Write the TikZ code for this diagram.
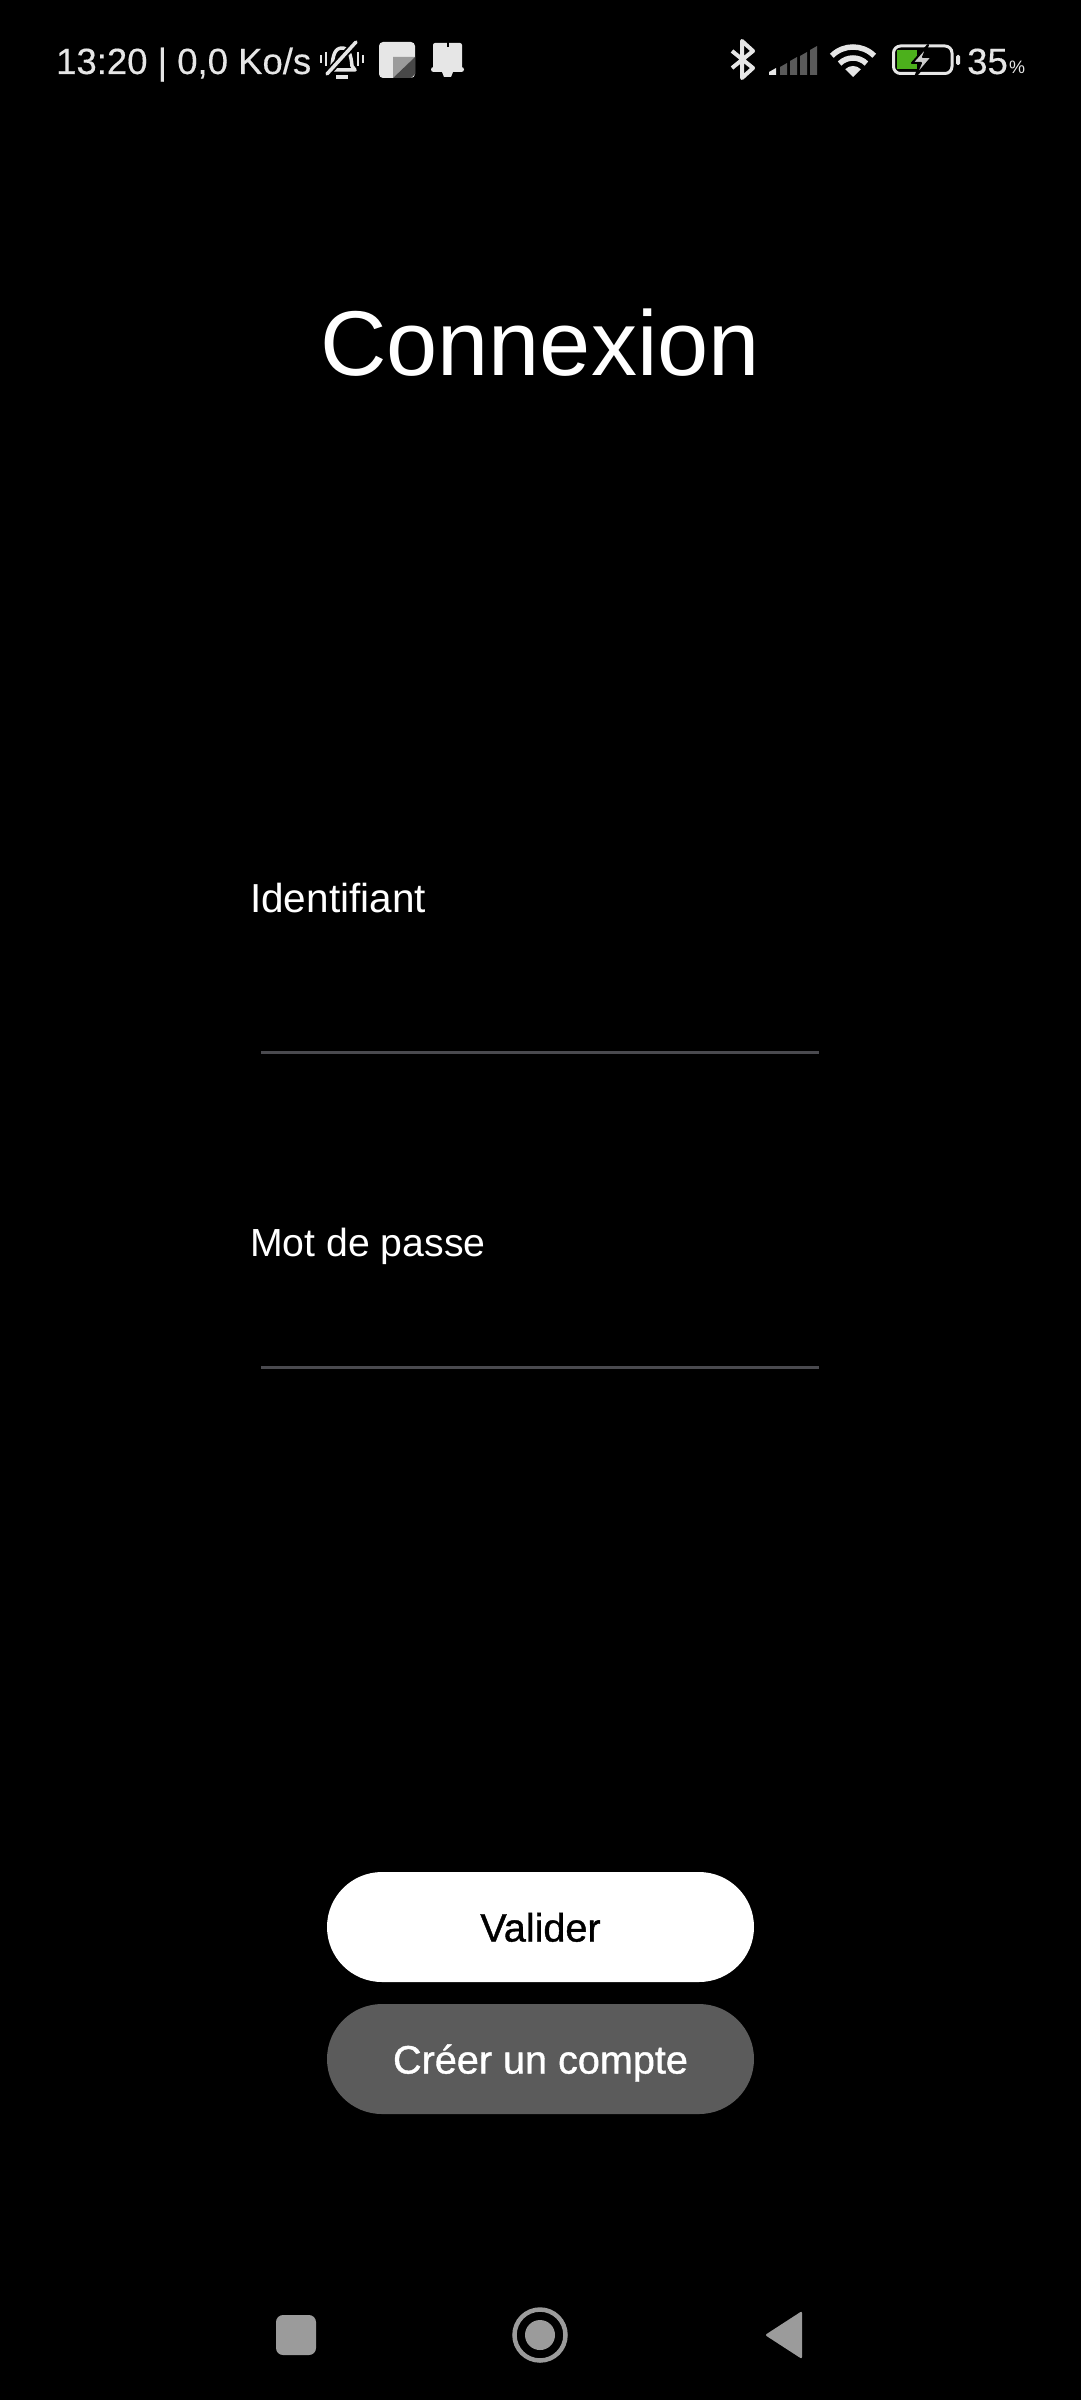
\documentclass[tikz,border=0pt]{standalone}
\usepackage{fontspec}
\setmainfont{Liberation Sans}
\newfontfamily\buttonfont[FakeBold=1.0]{Liberation Sans}
\newfontfamily\barfont[FakeBold=0.3]{Liberation Sans}
\tikzset{
% Text styles: status bar, title and form labels
status text/.style={anchor=base west,inner sep=0,text=barcolor,font=\barfont\fontsize{36.5}{36}\selectfont},
field label/.style={anchor=base west,inner sep=0,text=white,font=\fontsize{39.2}{40}\selectfont},
% Two button styles: light and dark
push button/.style={draw=none,rounded corners=55pt,minimum width=427pt,minimum height=110pt,inner sep=0,
  text height=29pt,text depth=0pt,font=\buttonfont\fontsize{39.6}{40}\selectfont},
light button/.style={push button,fill=white,text=black},
dark button/.style={push button,fill=buttongray,text=white},
field line/.style={draw=linegray,line width=3pt},
nav icon/.style={fill=navgray,draw=none}
}
\definecolor{barcolor}{HTML}{E6E6E6}
\definecolor{buttongray}{HTML}{5B5B5B}
\definecolor{linegray}{HTML}{4A4A4F}
\definecolor{navgray}{HTML}{9B9B9B}
\definecolor{signalgray}{HTML}{5A5A5A}
\definecolor{chargegreen}{HTML}{4CB01C}
\begin{document}
\begin{tikzpicture}[x=1pt,y=-1pt]
      % Screen
      \useasboundingbox (0,0) rectangle (1080,2400);
      \fill[black] (-3,-3) rectangle (1083,2403);
      % Status bar, left part
      \node(clock)[status text] at (56,74) {13:20 | 0,0 Ko/s};
      % muted bell
      \draw[barcolor,line width=3.5pt,line join=round]
        (329,70) -- (332,66) .. controls (333,55) and (335,48) .. (342,48)
        .. controls (349,48) and (351,55) .. (352,66) -- (355,70) -- cycle;
      \draw[black,line width=7pt] (327,74) -- (356,42);
      \draw[barcolor,line width=3.5pt,line cap=round] (327,74) -- (356,42);
      \fill[barcolor] (336,75) rectangle (348,79);
      \foreach \x/\h in {321/4,326/7,358/7,363/4}
        \draw[barcolor,line width=2.5pt] (\x,59-\h) -- (\x,59+\h);
      % note icon
      \fill[barcolor,rounded corners=4pt] (379,42) rectangle (415,78);
      \fill[navgray] (393,57) -- (415,57) -- (393,78) -- cycle;
      \fill[signalgray!80!black] (415,57) -- (415,74) -- (411,78) -- (393,78) -- cycle;
      % third icon
      \fill[barcolor,rounded corners=2pt] (433,43) rectangle (462,69);
      \fill[black] (446.5,42) rectangle (449,47);
      \fill[barcolor,rounded corners=2.5pt] (431,67) rectangle (464,72);
      \fill[barcolor] (442,72) -- (453,72) -- (451,77) -- (444,77) -- cycle;
      % Status bar, right part
      \draw[barcolor,line width=4pt,line join=round]
        (732,51) -- (753,68) -- (742,78) -- (742,41) -- (753,51) -- (732,68);
      % signal bars
      \foreach \x/\t/\c in {769/68/barcolor,780/63/signalgray,790/57/signalgray,800/52/signalgray,810/46/signalgray}
        \fill[\c] (\x,75) -- (\x+7,75) -- (\x+7,\t) -- (\x,\t+4) -- cycle;
      % wifi
      \coordinate (wifi) at (853,77);
      \fill[barcolor] (wifi) -- ++(45:11pt) arc[start angle=45,end angle=135,radius=11pt] -- cycle;
      \foreach \r in {19,30}
        \draw[barcolor,line width=5.5pt] (wifi) ++(45:\r pt) arc[start angle=45,end angle=135,radius=\r pt];
      % battery
      \draw[barcolor,line width=3pt,rounded corners=7pt] (893.5,46) rectangle (952,73.5);
      \fill[barcolor,rounded corners=1.5pt] (956,55) rectangle (960,65);
      \fill[chargegreen] (897,50) rectangle (917,69);
      \filldraw[fill=barcolor!75!gray,draw=black,line width=2pt,line join=round]
        (928,45) -- (912,63) -- (921,63) -- (915,77) -- (932,57) -- (923,57) -- cycle;
      \node(level)[status text] at (967,74) {35};
      \node(percent)[status text,font=\fontsize{18}{18}\selectfont] at (1009,74) {\%};
      % Title
      \node(title)[inner sep=0,text=white,font=\fontsize{92}{92}\selectfont,anchor=base] at (540,375) {Connexion};
      % Login form
      \node(login)[field label,font=\fontsize{40.5}{40}\selectfont] at (250,912) {Identifiant};
      \coordinate (login a) at (261,1052.5);
      \coordinate (login b) at (819,1052.5);
      \draw[field line] (login a) -- (login b);
      \node(secret)[field label] at (250,1256) {Mot de passe};
      \coordinate (secret a) at (261,1367.5);
      \coordinate (secret b) at (819,1367.5);
      \draw[field line] (secret a) -- (secret b);
      % Buttons
      \node(valider)[light button] at (540.5,1927) {Valider};
      \node(creer)[dark button] at (540.5,2059) {Créer un compte};
      % Navigation bar
      \fill[nav icon,rounded corners=7pt] (276,2315) rectangle (316,2355);
      \node(home)[circle,draw=navgray,line width=4.5pt,minimum size=51pt,inner sep=0] at (540,2335) {};
      \node(homedot)[circle,nav icon,minimum size=30pt,inner sep=0] at (540,2335) {};
      \fill[nav icon,rounded corners=2pt] (765,2335) -- (802,2311) -- (802,2359) -- cycle;
\end{tikzpicture}
\end{document}
